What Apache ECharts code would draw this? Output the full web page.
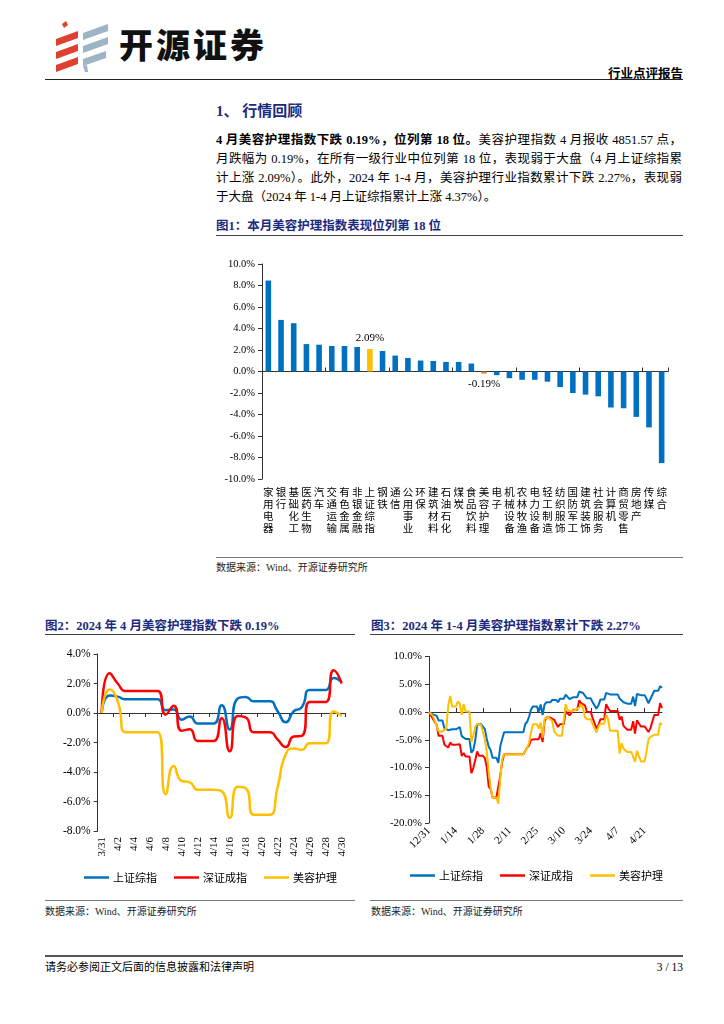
<!DOCTYPE html>
<html><head><meta charset="utf-8">
<script src="https://cdn.jsdelivr.net/npm/echarts@6/dist/echarts.min.js"></script>
<style>
html,body{margin:0;padding:0;background:#fff;}
#page{position:relative;width:724px;height:1024px;overflow:hidden;font-family:"Liberation Serif","Noto Sans CJK SC",serif;color:#000;}
.a{position:absolute;white-space:nowrap;}
.rule{position:absolute;height:0;}
.ttl{font-family:"Liberation Serif","Noto Sans CJK SC",serif;font-weight:700;color:#1c2a7d;}
.jl{position:absolute;left:216px;width:466px;font-size:12.5px;line-height:19px;height:19px;text-align:justify;text-align-last:justify;white-space:nowrap;}
.src{font-size:10px;color:#222;}
</style></head>
<body><div id="page">
<svg class="a" style="left:56px;top:21px" width="56" height="52" viewBox="0 0 56 52">
  <g fill="#e0402f">
    <polygon points="6,3 10,0 12,4 8,7"/>
    <polygon points="0,18 22,10 22,17 0,25"/>
    <polygon points="0,31 22,23 22,30 0,38"/>
    <polygon points="0,44 22,36 22,43 0,51"/>
  </g>
  <g fill="#9db4c4">
    <polygon points="27,12 52,3 52,10 27,19"/>
    <polygon points="27,25 52,16 52,23 27,32"/>
    <polygon points="27,38 50,30 50,37 27,45"/>
    <polygon points="27,45 31,44 32,51 29,51"/>
  </g>
</svg>
<div class="a" style="left:119px;top:25px;font-family:'Noto Sans CJK SC';font-weight:900;font-size:34px;line-height:38px;letter-spacing:3px;color:#111;">开源证券</div>
<div class="a" style="right:41px;top:65px;font-family:'Noto Sans CJK SC';font-weight:700;font-size:12.5px;line-height:16px;">行业点评报告</div>
<div class="rule" style="left:45px;width:638px;top:79px;border-top:1.5px solid #222;"></div>

<div class="a ttl" style="left:216px;top:101px;font-size:15px;line-height:20px;">1、 行情回顾</div>
<div class="jl" style="top:131px;"><b>4 月美容护理指数下跌 0.19%，位列第 18 位。</b>美容护理指数 4 月报收 4851.57 点，</div>
<div class="jl" style="top:150px;">月跌幅为 0.19%，在所有一级行业中位列第 18 位，表现弱于大盘（4 月上证综指累</div>
<div class="jl" style="top:169px;">计上涨 2.09%）。此外，2024 年 1-4 月，美容护理行业指数累计下跌 2.27%，表现弱</div>
<div class="a" style="left:216px;top:188px;font-size:12.5px;line-height:19px;">于大盘（2024 年 1-4 月上证综指累计上涨 4.37%）。</div>

<div class="a ttl" style="left:216px;top:217px;font-size:12.5px;line-height:18px;">图1：本月美容护理指数表现位列第 18 位</div>
<div class="rule" style="left:216px;width:467px;top:234.5px;border-top:1.5px solid #444;"></div>
<div id="c1" class="a" style="left:200px;top:250px;width:500px;height:300px;"></div>
<div class="rule" style="left:216px;width:467px;top:556.5px;border-top:1px solid #777;"></div>
<div class="a src" style="left:216px;top:561px;line-height:14px;">数据来源：Wind、开源证券研究所</div>

<div class="a ttl" style="left:45px;top:617px;font-size:12.5px;line-height:18px;">图2：2024 年 4 月美容护理指数下跌 0.19%</div>
<div class="rule" style="left:45px;width:310px;top:633.5px;border-top:1.5px solid #444;"></div>
<div class="a ttl" style="left:371px;top:617px;font-size:12.5px;line-height:18px;">图3：2024 年 1-4 月美容护理指数累计下跌 2.27%</div>
<div class="rule" style="left:370px;width:313px;top:633.5px;border-top:1.5px solid #444;"></div>

<div id="c2" class="a" style="left:40px;top:640px;width:320px;height:255px;"></div>
<div id="c3" class="a" style="left:365px;top:640px;width:330px;height:255px;"></div>

<div class="rule" style="left:45px;width:310px;top:900px;border-top:1px solid #777;"></div>
<div class="rule" style="left:370px;width:313px;top:900px;border-top:1px solid #777;"></div>
<div class="a src" style="left:45px;top:905px;line-height:14px;">数据来源：Wind、开源证券研究所</div>
<div class="a src" style="left:371px;top:905px;line-height:14px;">数据来源：Wind、开源证券研究所</div>

<div class="rule" style="left:45px;width:638px;top:955px;border-top:2px solid #555;"></div>
<div class="a" style="left:45px;top:959px;font-size:11px;line-height:16px;">请务必参阅正文后面的信息披露和法律声明</div>
<div class="a" style="right:41px;top:959px;font-size:11.5px;line-height:16px;">3 / 13</div>
</div>
<script>
// ---------- Figure 1 data ----------
const industries = ['家用电器','银行','基础化工','医药生物','汽车','交通运输','有色金属','非银金融','上证综指','钢铁','通信','公用事业','环保','建筑材料','石油石化','煤炭','食品饮料','美容护理','电子','机械设备','农林牧渔','电力设备','轻工制造','纺织服饰','国防军工','建筑装饰','社会服务','计算机','商贸零售','房地产','传媒','综合'];
const monthChange = [8.46,4.80,4.49,2.55,2.49,2.37,2.37,2.28,2.09,1.91,1.48,1.26,1.02,0.98,0.89,0.89,0.74,-0.19,-0.34,-0.62,-0.77,-0.77,-0.95,-1.45,-2.00,-2.15,-2.31,-3.35,-3.42,-4.22,-5.20,-8.52];
const highlight = {'上证综指':'#FFC000','美容护理':'#ED7D31'};

// ---------- Figure 2 data (2024-03-31 .. 2024-04-30) ----------
const aprDates = ['3/31','4/1','4/2','4/3','4/4','4/5','4/6','4/7','4/8','4/9','4/10','4/11','4/12','4/13','4/14','4/15','4/16','4/17','4/18','4/19','4/20','4/21','4/22','4/23','4/24','4/25','4/26','4/27','4/28','4/29','4/30'];
const aprSH = [0,1.19,1.11,0.93,0.93,0.93,0.93,0.93,0.19,0.24,-0.45,-0.23,-0.71,-0.71,-0.71,0.53,-1.12,0.99,1.09,0.79,0.79,0.79,0.11,-0.63,0.12,0.39,1.56,1.56,1.56,2.37,2.09];
const aprSZ = [0,2.7,2.0,1.5,1.5,1.5,1.5,1.5,-0.1,0.5,-1.2,-1.1,-1.9,-1.9,-1.9,-0.35,-2.6,-0.2,-0.3,-1.3,-1.3,-1.3,-1.8,-2.3,-1.6,-1.55,0.75,0.75,0.75,2.9,2.0];
const aprMR = [0,1.6,0.8,-1.3,-1.3,-1.3,-1.3,-1.3,-5.5,-3.6,-4.6,-4.7,-5.2,-5.2,-5.2,-5.3,-7.1,-5.0,-5.1,-6.9,-6.9,-6.9,-5.0,-2.8,-2.4,-2.5,-2.05,-2.05,-2.05,0.1,-0.19];

// ---------- Figure 3 data (2023-12-31 .. 2024-04-30, calendar days) ----------
const ytdSH = [0,0,
 -0.43,-0.26,-0.69,-1.54,-1.54,-1.54,
 -2.94,-2.75,-3.27,-2.97,-3.12,-3.12,-3.12,
 -2.98,-2.72,-4.34,-4.50,-4.88,-4.88,-4.88,
 -7.35,-6.86,-5.18,-2.31,-2.17,-2.17,-2.17,
 -3.08,-4.85,-6.27,-6.86,-8.23,-8.23,-8.23,
 -9.17,-6.23,-4.88,-3.67,
 -3.67,-3.67,-3.67,-3.67,-3.67,-3.67,-3.67,-3.67,-3.67,-3.67,
 -2.16,-1.76,-0.81,0.45,1.01,1.01,1.01,
 0.07,1.36,-0.57,1.35,1.75,1.75,1.75,
 2.16,2.45,2.18,1.76,2.39,2.39,2.39,
 3.14,2.72,2.32,2.13,2.68,2.68,2.68,
 3.70,3.52,3.43,3.35,2.46,2.46,2.46,
 1.73,1.90,0.61,1.20,2.23,2.23,2.23,
 3.44,3.36,3.17,3.17,3.17,3.17,3.17,
 2.42,2.47,1.76,1.99,1.50,1.50,1.50,
 2.77,1.08,3.24,3.34,3.04,3.04,3.04,
 2.34,1.58,2.35,2.62,3.82,3.82,3.82,
 4.64,4.37];
const ytdSZ = [0,0,
 -1.2,-1.4,-2.4,-4.3,-4.3,-4.3,
 -5.9,-5.7,-6.4,-5.5,-5.9,-5.9,-5.9,
 -6.0,-5.8,-7.9,-7.4,-8.0,-8.0,-8.0,
 -11.0,-10.1,-8.7,-7.1,-7.9,-7.9,-7.9,
 -8.3,-9.9,-13.4,-13.9,-15.4,-15.4,-15.4,
 -15.6,-11.5,-9.0,-7.6,
 -7.6,-7.6,-7.6,-7.6,-7.6,-7.6,-7.6,-7.6,-7.6,-7.6,
 -7.4,-6.4,-6.0,-5.0,-4.9,-4.9,-4.9,
 -4.9,-3.8,-5.4,-1.7,-1.0,-1.0,-1.0,
 -1.1,-1.4,-1.2,-2.7,-2.2,-2.2,-2.2,
 0.1,0.0,-0.6,-0.3,0.4,0.4,0.4,
 2.1,1.6,1.8,1.2,0.0,0.0,0.0,
 -1.1,-1.3,-3.0,-2.3,-1.3,-1.3,-1.3,
 1.4,0.7,0.2,0.2,0.2,0.2,0.2,
 -1.4,-0.8,-2.5,-2.4,-3.2,-3.2,-3.2,
 -1.65,-3.9,-1.5,-1.6,-2.6,-2.6,-2.6,
 -3.1,-3.6,-2.9,-2.85,-0.55,-0.55,-0.55,
 1.6,0.7];
const ytdMR = [0,0,
 -0.7,-1.6,-2.5,-3.5,-3.5,-3.5,
 -3.8,-3.0,1.2,2.9,1.0,1.0,1.0,
 1.9,1.5,-0.5,1.4,0.1,0.1,0.1,
 -5.4,-4.2,-2.7,-2.1,-2.3,-2.3,-2.3,
 -5.0,-7.2,-10.8,-13.6,-15.4,-15.4,-15.4,
 -16.5,-12.0,-8.5,-7.6,
 -7.6,-7.6,-7.6,-7.6,-7.6,-7.6,-7.6,-7.6,-7.6,-7.6,
 -7.4,-6.4,-5.5,-3.6,-2.2,-2.2,-2.2,
 -3.0,-1.9,-4.6,-1.2,-1.0,-1.0,-1.0,
 -1.6,-3.5,-3.2,-4.3,-4.3,-4.3,-4.3,
 1.4,0.3,0.0,0.1,0.4,0.4,0.4,
 0.8,1.4,0.6,-0.9,-1.3,-1.3,-1.3,
 -1.6,-3.0,-3.7,-2.6,-2.1,-2.1,-2.1,
 -0.5,-1.3,-3.4,-3.4,-3.4,-3.4,-3.4,
 -7.5,-5.6,-6.6,-6.7,-7.2,-7.2,-7.2,
 -7.3,-9.0,-7.0,-7.1,-8.9,-8.9,-8.9,
 -7.0,-4.9,-4.5,-4.6,-4.1,-4.1,-4.1,
 -2.0,-2.27];
const ytdStart = [2023, 11, 31];
const ytdDates = ytdSH.map((_, i) => { const d = new Date(ytdStart[0], ytdStart[1], ytdStart[2] + i); return (d.getMonth()+1) + '/' + d.getDate(); });

const seriesNames = ['上证综指','深证成指','美容护理'];
const seriesColors = ['#0070C0','#FF0000','#FFC000'];

const SERIF = '"Liberation Serif","Noto Sans CJK SC",serif';
const CJK = '"Noto Sans CJK SC",sans-serif';
const AX = '#333';
const pct1 = v => v.toFixed(1) + '%';

function yAxisCfg(min, max, interval, fs) {
  return {type:'value', min, max, interval, splitLine:{show:false},
    axisLine:{show:true, lineStyle:{color:AX, width:1}},
    axisTick:{show:true, length:4, lineStyle:{color:AX}},
    axisLabel:{formatter:pct1, fontSize:fs, color:'#000', fontFamily:SERIF, margin:7}};
}

// ---------- Chart 1 ----------
const c1 = echarts.init(document.getElementById('c1'), null, {renderer:'canvas'});
c1.setOption({
  animation:false,
  textStyle:{fontFamily:SERIF},
  grid:{left:62, top:14, width:406, height:215},
  xAxis:[
    {type:'category', data:industries, position:'bottom',
     axisLine:{show:false, onZero:false}, axisTick:{show:false},
     axisLabel:{interval:0, margin:7, fontSize:10.5, lineHeight:12, color:'#000', fontFamily:CJK,
       verticalAlign:'top', formatter:s => s.split('').join('\n')}},
    {type:'category', data:industries, position:'bottom',
     axisLine:{show:true, onZero:true, lineStyle:{color:AX, width:1}},
     axisTick:{show:true, inside:true, length:4, lineStyle:{color:AX}},
     axisLabel:{show:false}}
  ],
  yAxis:yAxisCfg(-10, 10, 2, 10.5),
  series:[{type:'bar', xAxisIndex:1, barWidth:'44%',
    data: monthChange.map((v, i) => {
      const c = highlight[industries[i]];
      const item = {value:v, itemStyle:{color: c || '#0070C0'}};
      if (c) item.label = {show:true, position: v >= 0 ? 'top' : 'bottom', distance:5,
        formatter: p => p.value.toFixed(2) + '%', fontSize:11, color:'#000', fontFamily:SERIF};
      return item;
    })}]
});

// ---------- Line chart helper ----------
function lineChart(el, cfg) {
  const ch = echarts.init(document.getElementById(el), null, {renderer:'canvas'});
  ch.setOption({
    animation:false,
    textStyle:{fontFamily:SERIF},
    grid:cfg.grid,
    legend:{data:seriesNames, left:cfg.legendLeft, top:cfg.legendTop, icon:'rect', itemWidth:25, itemHeight:2.5, itemGap:17,
      textStyle:{fontSize:11, fontFamily:CJK, color:'#000', padding:[0,0,0,-1]}},
    xAxis:[
      {type:'category', data:cfg.dates, boundaryGap:cfg.boundaryGap, position:'bottom',
       axisLine:{show:false, onZero:false}, axisTick:{show:false},
       axisLabel:{interval:cfg.interval, rotate:cfg.rotate, margin:6, fontSize:cfg.xfs, color:'#000', fontFamily:SERIF}},
      {type:'category', data:cfg.dates, boundaryGap:cfg.boundaryGap, position:'bottom',
       axisLine:{show:true, onZero:true, lineStyle:{color:AX, width:1}},
       axisTick:{show:true, interval:cfg.interval, inside:cfg.tickInside, length:4, lineStyle:{color:AX}},
       axisLabel:{show:false}}
    ],
    yAxis:yAxisCfg(cfg.min, cfg.max, cfg.step, cfg.yfs),
    series: cfg.data.map((d, i) => ({name:seriesNames[i], type:'line', xAxisIndex:1, data:d,
      smooth:cfg.smooth, showSymbol:false, symbol:'none',
      lineStyle:{color:seriesColors[i], width:cfg.lw}, itemStyle:{color:seriesColors[i]}, z:2+i}))
  });
}

lineChart('c2', {grid:{left:57.7, top:14, width:248, height:177}, dates:aprDates, boundaryGap:true,
  interval:1, rotate:90, xfs:11, yfs:11.5, min:-8, max:4, step:2, smooth:0.6, lw:2.5, tickInside:false,
  legendLeft:39, legendTop:227, data:[aprSH, aprSZ, aprMR]});

lineChart('c3', {grid:{left:64, top:16.5, width:233, height:166.5}, dates:ytdDates, boundaryGap:false,
  interval:13, rotate:45, xfs:11, yfs:11, min:-20, max:10, step:5, smooth:false, lw:2, tickInside:true,
  legendLeft:40, legendTop:225, data:[ytdSH, ytdSZ, ytdMR]});
</script>
</body></html>
